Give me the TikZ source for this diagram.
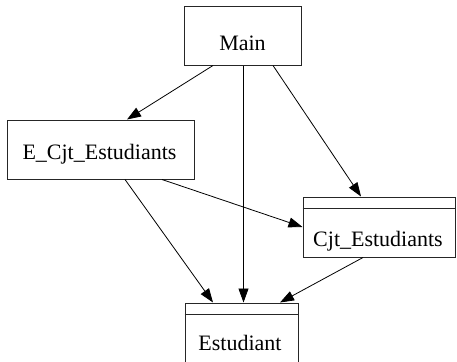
\documentclass[tikz,border=0pt]{standalone}
\usepackage{fontspec}
\newfontfamily\timesfont{Liberation Serif}
\usetikzlibrary{
  arrows.meta,
  positioning
}
\tikzset{
  x=1pt, y=-1pt,
  klasse/.style={draw=black!85, line width=1pt, inner sep=0pt},
  nom/.style={anchor=base, inner sep=0pt, font=\timesfont\fontsize{22}{26}\selectfont},
  dep/.style={-{Triangle[length=14pt,width=10pt]}, line width=0.8pt}
}
\begin{document}
\begin{tikzpicture}
    \useasboundingbox (0,0) rectangle (457,361);
    \clip (0,0) rectangle (457,361);
    % classes
    \node[klasse, minimum width=117, minimum height=58] (main) at (242.5,36) {};
    \node[klasse, minimum width=187, minimum height=59] (ecjt) at (100.5,149.5) {};
    \node[klasse, minimum width=152, minimum height=60] (cjt) at (379,227) {};
    \node[klasse, minimum width=113, minimum height=67] (est) at (241.5,336.5) {};
    \draw[line width=1pt, black!85] ([yshift=-12]cjt.north west) -- ([yshift=-12]cjt.north east);
    \draw[line width=1pt, black!85] ([yshift=-12]est.north west) -- ([yshift=-12]est.north east);
    \node[nom] (mainT) at (242.5,50) {Main};
    \node[nom] (ecjtT) at (99.5,159) {E\_Cjt\_Estudiants};
    \node[nom] (cjtT) at (378,246) {Cjt\_Estudiants};
    \node[nom] (estT) at (240,350) {Estudiant};
    % dependencies
    \draw[dep] ([xshift=-29.5]main.south) -- ([xshift=26.5]ecjt.north);
    \draw[dep] ([xshift=1]main.south) -- ([xshift=1]main.south |- est.north);
    \draw[dep] ([xshift=30.5]main.south) -- ([xshift=-18]cjt.north);
    \draw[dep] ([xshift=61.5]ecjt.south) -- (cjt.west);
    \draw[dep] ([xshift=24.5]ecjt.south) -- ([xshift=-28.5]est.north);
    \draw[dep] ([xshift=-16]cjt.south) -- ([xshift=38.5]est.north);
\end{tikzpicture}
\end{document}
